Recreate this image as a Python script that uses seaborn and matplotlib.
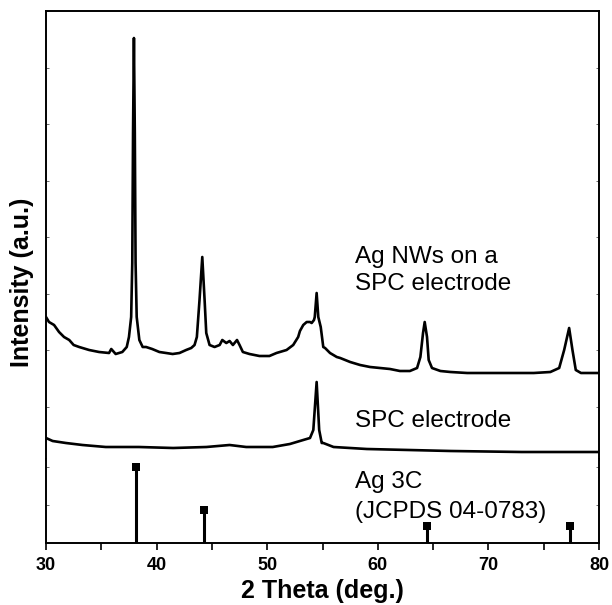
import matplotlib
matplotlib.use('Agg')
import matplotlib.pyplot as plt
from matplotlib.ticker import MultipleLocator
import seaborn as sns
import pandas as pd

# Ag NWs on a SPC electrode (2 theta in deg., intensity in a.u.)
nw_theta = [30.0, 30.27, 30.73, 31.18, 31.63, 32.1, 32.5, 33.0, 33.9, 34.8, 35.7, 35.9, 36.3,
            36.9, 37.3, 37.5, 37.7, 37.8, 37.87, 37.95, 38.03, 38.1, 38.2, 38.44, 38.74, 39.05,
            39.6, 40.25, 40.86, 41.45, 42.07, 42.67, 43.13, 43.43, 43.64, 43.88, 44.13, 44.34,
            44.49, 44.79, 45.24, 45.7, 45.94, 46.3, 46.6, 46.9, 47.27, 47.5, 47.8, 48.4, 49.3,
            50.2, 50.84, 51.75, 52.35, 52.8, 52.96, 53.26, 53.57, 53.87, 54.02, 54.23, 54.3,
            54.47, 54.62, 54.84, 55.07, 55.23, 55.68, 56.29, 56.6, 57.5, 58.4, 59.3, 60.2, 61.1,
            62.0, 62.9, 63.55, 63.85, 64.09, 64.24, 64.45, 64.6, 64.9, 65.66, 66.57, 68.08, 69.6,
            71.1, 72.6, 74.1, 75.6, 76.4, 76.85, 77.3, 77.6, 77.9, 78.37, 79.27, 80.0]
nw_int = [146, 141, 138, 131, 126, 123, 118, 116, 113, 111, 110, 114, 109,
          111, 116, 126, 146, 200, 330, 425, 330, 200, 146, 123, 116, 116,
          114, 111, 110, 109, 110, 113, 115, 118, 126, 163, 206, 163,
          130, 118, 116, 118, 123, 120, 122, 118, 123, 118, 111, 109, 107,
          107, 110, 113, 118, 126, 132, 138, 141, 141, 140, 143, 146,
          170, 146, 136, 116, 115, 110, 106, 105, 101, 98, 96, 95, 94,
          92, 92, 95, 106, 130, 141, 126, 103, 95, 92, 91, 90, 90,
          90, 90, 90, 91, 95, 113, 135, 113, 93, 90, 90, 90]

# bare SPC electrode
spc_theta = [30.0, 30.6, 31.8, 33.3, 35.4, 38.4, 41.5, 44.5, 46.6, 48.1, 50.5, 52.05, 53.26,
             53.87, 54.17, 54.47, 54.7, 54.93, 55.07, 56.0, 59.0, 66.6, 73.0, 80.0]
spc_int = [25, 22, 20, 18, 16, 16, 15, 16, 18, 16, 16, 19, 23,
           25, 33, 81, 33, 20, 20, 16, 14, 12, 11, 11]

# Ag 3C reference (JCPDS 04-0783)
ref_theta = [38.1, 44.3, 64.45, 77.4]
ref_int = [100, 44, 23, 23]

nw = pd.DataFrame({'theta': nw_theta, 'intensity': nw_int})
spc = pd.DataFrame({'theta': spc_theta, 'intensity': spc_int})
ref = pd.DataFrame({'theta': ref_theta, 'intensity': ref_int})

sns.set_style('ticks')
plt.rcParams['font.family'] = ['Liberation Sans', 'DejaVu Sans']
plt.rcParams.update({'text.color': 'black', 'axes.labelcolor': 'black',
                     'xtick.color': 'black', 'ytick.color': 'black',
                     'axes.edgecolor': 'black'})

W, H = 612, 605
fig = plt.figure(figsize=(W / 100, H / 100), dpi=100)
left, right = 46 / W, 599 / W
ax1 = fig.add_axes([left, 1 - 460 / H, right - left, 449 / H])
ax2 = fig.add_axes([left, 1 - 543 / H, right - left, 84 / H])

sns.lineplot(data=nw, x='theta', y='intensity', ax=ax1, color='black', lw=1.9, sort=False)
sns.lineplot(data=spc, x='theta', y='intensity', ax=ax1, color='black', lw=1.9, sort=False)
ax1.set_xlim(30, 80)
ax1.set_ylim(3, 452)
ax1.set_yticks([56.5 * i for i in range(1, 9)])
ax1.set_xticks([])
ax1.spines['bottom'].set_visible(False)
ax1.set_xlabel('')
ax1.set_ylabel('')
ax1.tick_params(axis='y', direction='in', length=2.5, width=0.6, left=True, right=True,
                labelleft=False, color='#555555')

ax1.text(57.9, 200, 'Ag NWs on a', fontsize=17.5)
ax1.text(57.9, 173, 'SPC electrode', fontsize=17.5)
ax1.text(57.9, 36, 'SPC electrode', fontsize=17.5)

ax2.vlines(ref['theta'], 0, ref['intensity'], color='black', lw=2.2)
sns.scatterplot(data=ref, x='theta', y='intensity', ax=ax2, marker='s', s=40,
                color='black', edgecolor='black', linewidth=0, zorder=3, clip_on=False)
ax2.set_xlim(30, 80)
ax2.set_ylim(0, 110.5)
ax2.set_yticks([0, 50, 100])
ax2.spines['top'].set_visible(False)
ax2.xaxis.set_major_locator(MultipleLocator(10))
ax2.xaxis.set_minor_locator(MultipleLocator(5))
ax2.tick_params(axis='x', which='both', direction='out', length=5, width=1.2, pad=5,
                labelsize=13)
ax2.tick_params(axis='y', direction='in', length=2.5, width=0.6, left=True, right=True,
                labelleft=False, color='#555555')
for lab in ax2.get_xticklabels():
    lab.set_fontweight('bold')
ax2.set_ylabel('')
ax2.set_xlabel('2 Theta (deg.)', fontsize=18, fontweight='bold', labelpad=4)
ax2.text(57.9, 72, 'Ag 3C', fontsize=17.5)
ax2.text(57.9, 33, '(JCPDS 04-0783)', fontsize=17.5)

for ax in (ax1, ax2):
    for s in ax.spines.values():
        s.set_linewidth(1.4)

fig.text(22 / W, 1 - 282 / H, 'Intensity (a.u.)', rotation=90, fontsize=18,
         fontweight='bold', ha='center', va='center')

fig.savefig('out.png', dpi=100)
